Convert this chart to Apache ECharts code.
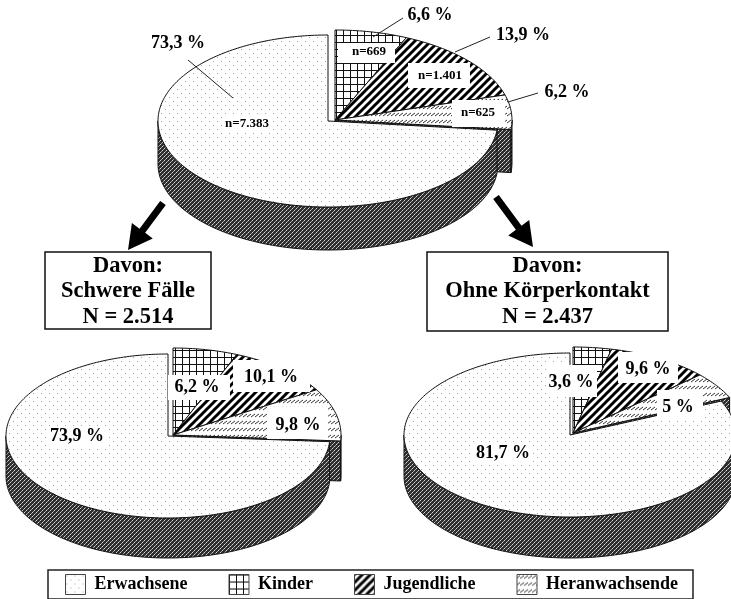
<!DOCTYPE html>
<html><head><meta charset="utf-8">
<style>html,body{margin:0;padding:0;background:#fff}#c{width:731px;height:599px;filter:blur(.45px)}</style>
<script src="https://cdn.jsdelivr.net/npm/echarts@6/dist/echarts.min.js"></script>
</head><body><div id="c"></div>
<script>
const kinder = [6.6, 6.2, 3.6];
const jugendliche = [13.9, 10.1, 9.6];
const heranwachsende = [6.2, 9.8, 5];
const erwachsene = [73.3, 73.9, 81.7];
const fallzahlen = {Kinder: 669, Jugendliche: 1401, Heranwachsende: 625, Erwachsene: 7383};
const boxTitles = [['Davon:', 'Schwere Fälle', 'N = 2.514'], ['Davon:', 'Ohne Körperkontakt', 'N = 2.437']];

const SERIF = '"Liberation Serif","Times New Roman",serif';
const pies = [
  {cx: 328, cy: 121, rx: 170, ry: 86, depth: 43, ex: 335, ey: 120, erx: 177, ery: 90},
  {cx: 168, cy: 436, rx: 162, ry: 82, depth: 40, ex: 173, ey: 435, erx: 168, ery: 87},
  {cx: 570, cy: 435, rx: 166, ry: 82, depth: 41, ex: 573, ey: 433, erx: 172, ery: 86}
];
function tile(w, h, bg, draw) {
  const c = document.createElement('canvas'); c.width = w; c.height = h;
  const g = c.getContext('2d'); g.fillStyle = bg; g.fillRect(0, 0, w, h); draw(g);
  return {image: c, repeat: 'repeat'};
}
const pDots = tile(8, 8, '#fff', g => { g.fillStyle = '#a4a4a4'; g.fillRect(1, 1, 1, 1); g.fillRect(5, 5, 1, 1); });
const pGrid = tile(7, 7, '#fff', g => { g.fillStyle = '#111'; g.fillRect(0, 0, 7, 1); g.fillRect(0, 0, 1, 7); });
const pDiag = tile(8, 8, '#fff', g => {
  g.strokeStyle = '#000'; g.lineWidth = 3;
  [[-4, 4, 4, -4], [0, 8, 8, 0], [4, 12, 12, 4]].forEach(s => { g.beginPath(); g.moveTo(s[0], s[1]); g.lineTo(s[2], s[3]); g.stroke(); });
});
const pHatch = tile(4, 7, '#fff', g => {
  g.strokeStyle = '#333'; g.lineWidth = 1;
  [[-1, 3, 3, 0], [3, 3, 7, 0]].forEach(s => { g.beginPath(); g.moveTo(s[0], s[1] + 1); g.lineTo(s[2], s[3] + 1); g.stroke(); });
});
const pSide = tile(4, 4, '#2e2e2e', g => { g.fillStyle = '#d8d8d8'; g.fillRect(0, 0, 1, 1); g.fillRect(2, 2, 1, 1); g.fillStyle = '#a0a0a0'; g.fillRect(1, 3, 1, 1); g.fillRect(3, 1, 1, 1); });

const rim = (cx, cy, rx, ry, t) => [cx + rx * Math.sin(t), cy - ry * Math.cos(t)];
const arc = (cx, cy, rx, ry, a, b) => {
  const pts = [], n = Math.max(2, Math.ceil(Math.abs(b - a) / 0.02));
  for (let i = 0; i <= n; i++) pts.push(rim(cx, cy, rx, ry, a + (b - a) * i / n));
  return pts;
};
const total = i => kinder[i] + jugendliche[i] + heranwachsende[i] + erwachsene[i];
const ang = (i, v) => v / total(i) * Math.PI * 2;
const STROKE = {stroke: '#111', lineWidth: 1};

function wedge(pattern, offset) {
  return function (params, api) {
    const i = params.dataIndex, p = pies[i];
    const a = ang(i, offset(i)), b = a + ang(i, api.value(0));
    const pts = [[p.ex, p.ey]].concat(arc(p.ex, p.ey, p.erx, p.ery, a, b));
    return {type: 'polygon', shape: {points: pts}, style: Object.assign({fill: pattern}, STROKE)};
  };
}
function bigWedge(params, api) {
  const i = params.dataIndex, p = pies[i];
  const a = ang(i, total(i) - api.value(0));
  const pts = [[p.cx, p.cy]].concat(arc(p.cx, p.cy, p.rx, p.ry, a, Math.PI * 2));
  return {type: 'polygon', shape: {points: pts}, style: Object.assign({fill: pDots}, STROKE)};
}
function sides(params, api) {
  const i = params.dataIndex, p = pies[i];
  const end = ang(i, api.value(0));
  const children = [];
  const e = rim(p.ex, p.ey, p.erx, p.ery, end);
  children.push({type: 'polygon', shape: {points: [[p.ex, p.ey], e, [e[0], e[1] + p.depth], [p.ex, p.ey + p.depth]]},
    style: Object.assign({fill: pSide}, STROKE)});
  if (end > Math.PI / 2) {
    const up = arc(p.ex, p.ey, p.erx, p.ery, Math.PI / 2, end);
    const lo = up.map(q => [q[0], q[1] + p.depth]).reverse();
    children.push({type: 'polygon', shape: {points: up.concat(lo)}, style: Object.assign({fill: pSide}, STROKE)});
  }
  const s = Math.max(end, Math.PI / 2);
  const up2 = arc(p.cx, p.cy, p.rx, p.ry, s, Math.PI * 1.5);
  const lo2 = up2.map(q => [q[0], q[1] + p.depth]).reverse();
  children.push({type: 'polygon', shape: {points: up2.concat(lo2)}, style: Object.assign({fill: pSide}, STROKE)});
  return {type: 'group', children};
}
const rows = a => a.map(v => [v]);
const series = [
  {type: 'custom', name: 'Seiten', coordinateSystem: 'none', z: 1, silent: true,
   data: kinder.map((v, i) => [v + jugendliche[i] + heranwachsende[i]]), renderItem: sides},
  {type: 'custom', name: 'Kinder', coordinateSystem: 'none', z: 2, silent: true, itemStyle: {color: pGrid},
   data: rows(kinder), renderItem: wedge(pGrid, () => 0)},
  {type: 'custom', name: 'Jugendliche', coordinateSystem: 'none', z: 2, silent: true, itemStyle: {color: pDiag},
   data: rows(jugendliche), renderItem: wedge(pDiag, i => kinder[i])},
  {type: 'custom', name: 'Heranwachsende', coordinateSystem: 'none', z: 2, silent: true, itemStyle: {color: pHatch},
   data: rows(heranwachsende), renderItem: wedge(pHatch, i => kinder[i] + jugendliche[i])},
  {type: 'custom', name: 'Erwachsene', coordinateSystem: 'none', z: 3, silent: true, itemStyle: {color: pDots},
   data: rows(erwachsene), renderItem: bigWedge}
];

const pct = v => String(v).replace('.', ',') + ' %';
const cnt = v => 'n=' + String(v).replace(/\B(?=(\d{3})+$)/g, '.');
const gfx = [];
function label(text, x, y, size, box) {
  if (box) gfx.push({type: 'rect', z: 20, shape: {x: box[0], y: box[1], width: box[2] - box[0], height: box[3] - box[1]}, style: {fill: '#fff'}});
  gfx.push({type: 'text', z: 21, x, y, style: {text, fill: '#000', font: 'bold ' + size + 'px ' + SERIF, align: 'center', verticalAlign: 'middle'}});
}
function leader(x1, y1, x2, y2) {
  gfx.push({type: 'line', z: 22, shape: {x1, y1, x2, y2}, style: {stroke: '#222', lineWidth: 1}});
}
function arrow(x1, y1, x2, y2) {
  const L = Math.hypot(x2 - x1, y2 - y1), ux = (x2 - x1) / L, uy = (y2 - y1) / L, nx = -uy, ny = ux;
  const bx = x2 - ux * 24, by = y2 - uy * 24, w = 3.5, h = 13;
  gfx.push({type: 'polygon', z: 22, shape: {points: [
    [x1 + nx * w, y1 + ny * w], [bx + nx * w, by + ny * w], [bx + nx * h, by + ny * h], [x2, y2],
    [bx - nx * h, by - ny * h], [bx - nx * w, by - ny * w], [x1 - nx * w, y1 - ny * w]]}, style: {fill: '#000'}});
}
function titleBox(lines, x, y, w, h) {
  gfx.push({type: 'rect', z: 20, shape: {x, y, width: w, height: h}, style: {fill: '#fff', stroke: '#111', lineWidth: 1.5}});
  lines.forEach((t, i) => gfx.push({type: 'text', z: 21, x: x + w / 2, y: y + 14 + i * 25.5, style: {text: t, fill: '#000', font: 'bold 22.5px ' + SERIF, align: 'center', verticalAlign: 'middle'}}));
}
// Hauptkreis
label(cnt(fallzahlen.Kinder), 369, 52, 13, [338, 43, 395, 63]);
label(cnt(fallzahlen.Jugendliche), 440, 76, 13, [408, 63, 470, 88]);
label(cnt(fallzahlen.Heranwachsende), 478, 113, 13, [452, 100, 505, 127]);
label(cnt(fallzahlen.Erwachsene), 247, 124, 13, [222, 116, 272, 132]);
label(pct(kinder[0]), 430, 15, 18);
label(pct(jugendliche[0]), 523, 35, 18);
label(pct(heranwachsende[0]), 567, 92, 18);
label(pct(erwachsene[0]), 178, 43, 18);
leader(403, 18, 373, 37); leader(490, 37, 455, 52); leader(538, 93, 508, 102); leader(188, 60, 233, 98);
// links
label(pct(kinder[1]), 197, 387, 18, [168, 375, 230, 400]);
label(pct(jugendliche[1]), 271, 377, 18, [233, 360, 310, 392]);
label(pct(heranwachsende[1]), 298, 425, 18, [267, 407, 328, 439]);
label(pct(erwachsene[1]), 77, 436, 18, [47, 426, 107, 447]);
// rechts
label(pct(kinder[2]), 571, 382, 18, [547, 365, 597, 397]);
label(pct(jugendliche[2]), 648, 369, 18, [618, 352, 678, 383]);
label(pct(heranwachsende[2]), 678, 407, 18, [657, 390, 703, 420]);
label(pct(erwachsene[2]), 503, 453, 18, [473, 442, 533, 464]);
arrow(163, 203, 128, 250); arrow(496, 197, 533, 247);
titleBox(boxTitles[0], 45, 252, 166, 77);
titleBox(boxTitles[1], 427, 252, 241, 79);

const chart = echarts.init(document.getElementById('c'), null, {renderer: 'canvas'});
chart.setOption({
  animation: false, backgroundColor: '#fff',
  legend: {
    left: 48, top: 570, orient: 'horizontal', icon: 'rect', itemWidth: 20, itemHeight: 20, itemGap: 41, itemStyle: {borderColor: '#444', borderWidth: 1},
    padding: [4, 15, 4, 17], borderColor: '#222', borderWidth: 1.5, backgroundColor: '#fff', selectedMode: false,
    textStyle: {fontFamily: SERIF, fontWeight: 'bold', fontSize: 18, color: '#000', padding: [0, 0, 0, 4]},
    data: [
      {name: 'Erwachsene', itemStyle: {color: pDots}},
      {name: 'Kinder', itemStyle: {color: pGrid}},
      {name: 'Jugendliche', itemStyle: {color: pDiag}},
      {name: 'Heranwachsende', itemStyle: {color: pHatch}}
    ]
  },
  series, graphic: {elements: gfx}
});
</script></body></html>
